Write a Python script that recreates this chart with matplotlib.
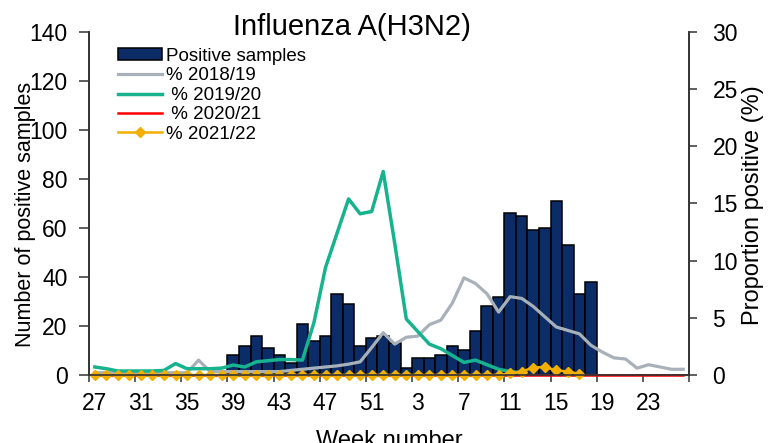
import matplotlib.pyplot as plt
import numpy as np

plt.rcParams['font.family'] = ['Liberation Sans', 'DejaVu Sans']

# season weeks 27..52 then 1..26
weeks = list(range(27, 53)) + list(range(1, 27))

positive = [0, 0, 0, 0, 0, 0, 0, 0, 0, 0, 0, 0,          # wk27-38
            8, 12, 16, 11, 8, 5, 21, 14, 16, 33, 29, 12, 15, 16,   # wk39-52
            13, 3, 7, 7, 8, 12, 10, 18, 28, 32, 66, 65, 59, 60, 71, 53, 33, 38,  # wk1-18
            0, 0, 0, 0, 0, 0, 0, 0]                       # wk19-26

pct_1819 = [0.2, 0.2, 0.2, 0.2, 0.2, 0.2, 0.2, 0.2, 0.2, 1.3, 0.3, 0.3, 0.3,
            0.3, 0.3, 0.3, 0.3, 0.4, 0.5, 0.6, 0.7, 0.8, 0.95, 1.15, 2.4, 3.7,
            2.7, 3.3, 3.4, 4.4, 4.8, 6.3, 8.5, 8.0, 7.1, 5.5, 6.85, 6.7, 6.0,
            5.1, 4.2, 3.9, 3.6, 2.6, 2.0, 1.5, 1.4, 0.6, 0.9, 0.7, 0.5, 0.5]

pct_1920 = [0.7, 0.55, 0.35, 0.35, 0.35, 0.35, 0.4, 1.0, 0.55, 0.55, 0.55, 0.6,
            0.87, 0.7, 1.15, 1.25, 1.35, 1.35, 1.3, 4.6, 9.4, 12.4, 15.4, 14.1,
            14.3, 17.8,
            11.5, 4.9, 3.8, 2.7, 2.3, 1.7, 1.1, 1.3, 0.9, 0.5, 0.3, 0.2] + [np.nan] * 14

pct_2021 = [0.0] * 52

pct_2122 = [0.0] * 36 + [0.15, 0.3, 0.65, 0.7, 0.4, 0.3, 0.1] + [np.nan] * 9

x = np.arange(len(weeks))

fig = plt.figure(figsize=(7.75, 4.43), dpi=100)
ax = fig.add_axes([0.1148, 0.1535, 0.7742, 0.7743])
ax2 = ax.twinx()

bars = ax.bar(x, positive, width=1.0, color='#0B2C66', edgecolor='black',
              linewidth=1.1, label='Positive samples', zorder=2)

l1, = ax2.plot(x, pct_1819, color='#A8B0B9', lw=2.3, label='% 2018/19')
l2, = ax2.plot(x, pct_1920, color='#17B28E', lw=2.5, label=' % 2019/20')
l3, = ax2.plot(x, pct_2021, color='#FF0000', lw=1.8, label=' % 2020/21', clip_on=False)
l4, = ax2.plot(x, pct_2122, color='#F2AF00', lw=1.8, marker='D', ms=5.5,
               label='% 2021/22', clip_on=False)

ax.set_xlim(-0.5, len(weeks) - 0.5)
ax.set_ylim(0, 140)
ax2.set_ylim(0, 30)
ax.set_yticks(np.arange(0, 141, 20))
ax2.set_yticks(np.arange(0, 31, 5))

# ticks between categories, labels on every 4th week
ax.set_xticks(np.arange(-0.5, len(weeks), 4))
ax.set_xticklabels([])
ax.set_xticks(x[::4], minor=True)
ax.set_xticklabels([str(w) for w in weeks[::4]], minor=True)
ax.tick_params(axis='x', which='major', length=5, width=1.1, color='#333333', direction='out')
ax.tick_params(axis='x', which='minor', length=0, pad=12, labelsize=16.5)
ax.tick_params(axis='y', length=7.5, width=1.1, color='#333333', pad=8, labelsize=16.5)
ax2.tick_params(axis='y', length=6, width=1.1, color='#333333', pad=11, labelsize=16.5)

for a in (ax, ax2):
    a.spines['top'].set_visible(False)
    for s in ('left', 'right', 'bottom'):
        a.spines[s].set_linewidth(1.2)
        a.spines[s].set_color('#333333')

ax.set_xlabel('Week number', fontsize=17, labelpad=11)
ax.set_ylabel('Number of positive samples', fontsize=15.5)
ax.yaxis.set_label_coords(-0.088, 0.468)
ax2.set_ylabel('Proportion positive (%)', fontsize=17)
ax2.yaxis.set_label_coords(1.088, 0.496)

fig.text(352 / 775, 1 - 35 / 443, 'Influenza A(H3N2)', fontsize=21,
         ha='center', va='baseline')

fig.legend([bars, l1, l2, l3, l4],
           ['Positive samples', '% 2018/19', ' % 2019/20', ' % 2020/21', '% 2021/22'],
           loc='upper left', bbox_to_anchor=(118 / 775, 1 - 48 / 443),
           frameon=False, fontsize=13.5, borderpad=0, borderaxespad=0,
           labelspacing=0.13, handlelength=2.35, handletextpad=0.2,
           handleheight=0.6)

fig.savefig('out.png', dpi=100)
